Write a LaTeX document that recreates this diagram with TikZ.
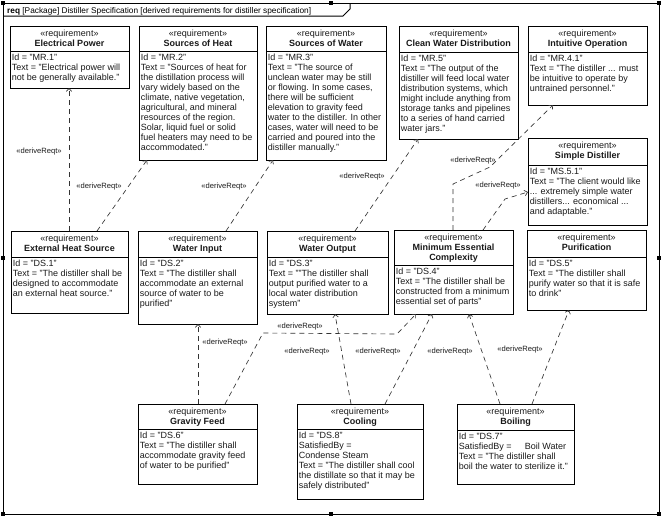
\documentclass[tikz,border=0pt]{standalone}
\usepackage{fontspec}
\setmainfont{Liberation Sans}
\usetikzlibrary{arrows.meta,calc}
% #1 name, #2 x, #3 y, #4 w, #5 h, #6 separator offset, #7 header name lines, #8 body
\newcommand{\reqbox}[8]{%
  \node[reqframe, minimum width=#4pt, minimum height=#5pt] (#1) at (#2,#3) {};
  \draw[boxline] ([yshift=-#6pt]#1.north west) -- ([yshift=-#6pt]#1.north east);
  \node[hdr] (#1h) at ([yshift=-3.2pt]#1.north) {\strut «requirement»\\#7};
  \node[bdy] (#1b) at ([xshift=1.6pt,yshift={-#6pt-2.2pt}]#1.north west) {\strut #8};
}
\begin{document}
\begin{tikzpicture}[x=1pt,y=-1pt,
  reqframe/.style={draw=black, line width=0.8pt, rectangle, anchor=north west, inner sep=0, outer sep=0},
  boxline/.style={draw=black, line width=0.8pt},
  frameline/.style={draw=black, line width=1pt},
  hdr/.style={inner sep=0, align=center, anchor=north, font=\fontsize{9}{10}\selectfont, text=black!90},
  bdy/.style={inner sep=0, align=left, anchor=north west, font=\fontsize{9}{10}\selectfont, text=black!90},
  lbl/.style={inner sep=0, font=\fontsize{7.6}{9}\selectfont, text=black!90},
  dr/.style={draw=black!80, line width=0.65pt, dash pattern=on 5pt off 4pt, -{Straight Barb[length=3pt,width=5.5pt]}},
  handle/.style={fill=black}
]
\useasboundingbox (0,0) rectangle (663,517);
% frame
\draw[frameline] (3,3) rectangle (659,514);
\draw[frameline] (3,16) -- (343,16) -- (350,9) -- (350,3);
\node[anchor=base west, font=\fontsize{8.3}{10}\selectfont, inner sep=0] (title) at (7,13)
  {\textbf{req} [Package] Distiller Specification [derived requirements for distiller specification]};
% selection handles
\foreach \hx/\hy in {3/3, 331/3, 659/3, 3/258, 659/258, 3/514, 331/514, 659/514}
  \fill[handle] (\hx-2,\hy-2) rectangle (\hx+2,\hy+2);

% top row
\reqbox{ep}{10}{26}{119}{62}{25}{\textbf{Electrical Power}}
 {Id = "MR.1"\\Text = "Electrical power will\\not be generally available."}
\reqbox{sh}{139}{26}{118}{134}{25}{\textbf{Sources of Heat}}
 {Id = "MR.2"\\Text = "Sources of heat for\\the distillation process will\\vary widely based on the\\climate, native vegetation,\\agricultural, and mineral\\resources of the region.\\Solar, liquid fuel or solid\\fuel heaters may need to be\\accommodated."}
\reqbox{sw}{266}{26}{120}{134}{25}{\textbf{Sources of Water}}
 {Id = "MR.3"\\Text = "The source of\\unclean water may be still\\or flowing. In some cases,\\there will be sufficient\\elevation to gravity feed\\water to the distiller. In other\\cases, water will need to be\\carried and poured into the\\distiller manually."}
\reqbox{cwd}{399}{26}{119}{113}{26}{\textbf{Clean Water Distribution}}
 {Id = "MR.5"\\Text = "The output of the\\distiller will feed local water\\distribution systems, which\\might include anything from\\storage tanks and pipelines\\to a series of hand carried\\water jars."}
\reqbox{io}{528}{26}{119}{79}{26}{\textbf{Intuitive Operation}}
 {Id = "MR.4.1"\\Text = "The distiller ... must\\be intuitive to operate by\\untrained personnel."}
\reqbox{sd}{528}{138}{119}{87}{27}{\textbf{Simple Distiller}}
 {Id = "MS.5.1"\\Text = "The client would like\\... extremely simple water\\distillers... economical ...\\and adaptable."}

% middle row
\reqbox{ehs}{11}{231}{117}{82}{26}{\textbf{External Heat Source}}
 {Id = "DS.1"\\Text = "The distiller shall be\\designed to accommodate\\an external heat source."}
\reqbox{wi}{138}{231}{119}{93}{26}{\textbf{Water Input}}
 {Id = "DS.2"\\Text = "The distiller shall\\accommodate an external\\source of water to be\\purified"}
\reqbox{wo}{267}{231}{121}{83}{26}{\textbf{Water Output}}
 {Id = "DS.3"\\Text = ""The distiller shall\\output purified water to a\\local water distribution\\system"}
\reqbox{mec}{394}{230}{119}{84}{35}{\textbf{Minimum Essential}\\\textbf{Complexity}}
 {Id = "DS.4"\\Text = "The distiller shall be\\constructed from a minimum\\essential set of parts"}
\reqbox{pur}{527}{230}{119}{80}{27}{\textbf{Purification}}
 {Id = "DS.5"\\Text = "The distiller shall\\purify water so that it is safe\\to drink"}

% bottom row
\reqbox{gf}{138}{404}{119}{80}{25}{\textbf{Gravity Feed}}
 {Id = "DS.6"\\Text = "The distiller shall\\accommodate gravity feed\\of water to be purified"}
\reqbox{cool}{297}{404}{126}{95}{25}{\textbf{Cooling}}
 {Id = "DS.8"\\SatisfiedBy =\\Condense Steam\\Text = "The distiller shall cool\\the distillate so that it may be\\safely distributed"}
\reqbox{boil}{457}{404}{117}{80}{26}{\textbf{Boiling}}
 {Id = "DS.7"\\SatisfiedBy = \hspace{1.2em}Boil Water\\Text = "The distiller shall\\boil the water to sterilize it."}

% bend points
\coordinate (b1) at (453,184);
\coordinate (b2) at (490,167);
\coordinate (b3) at (505,199);
\coordinate (b4) at (263,333);
\coordinate (b5) at (397,334);

% connectors
\draw[dr] ([xshift=58pt]ehs.north west) -- ([xshift=59pt]ep.south west);
\draw[dr] ([xshift=86pt]ehs.north west) -- ([xshift=8pt]sh.south west);
\draw[dr] ([xshift=88pt]wi.north west) -- ([xshift=7pt]sw.south west);
\draw[dr] ([xshift=88pt]wo.north west) -- ([xshift=19pt]cwd.south west);
\draw[dr] ([xshift=59pt]mec.north west) -- (b1) -- (b2) -- ([xshift=25pt]io.south west);
\draw[dr] ([xshift=89pt]mec.north west) -- (b3) -- ([yshift=-54pt]sd.north west);
\draw[dr] ([xshift=60pt]gf.north west) -- ([xshift=60pt]wi.south west);
\draw[dr] ([xshift=87pt]gf.north west) -- (b4) -- (b5) -- ([xshift=22pt]mec.south west);
\draw[dr] ([xshift=54pt]cool.north west) -- ([xshift=68pt]wo.south west);
\draw[dr] ([xshift=88pt]cool.north west) -- ([xshift=38pt]mec.south west);
\draw[dr] ([xshift=43pt]boil.north west) -- ([xshift=75pt]mec.south west);
\draw[dr] ([xshift=75pt]boil.north west) -- ([xshift=42pt]pur.south west);

% labels
\node[lbl] (l1) at (39,152) {«deriveReqt»};
\node[lbl] (l2) at (99,187) {«deriveReqt»};
\node[lbl] (l3) at (224,187) {«deriveReqt»};
\node[lbl] (l4) at (362,177) {«deriveReqt»};
\node[lbl] (l5) at (473,161) {«deriveReqt»};
\node[lbl] (l6) at (498,186) {«deriveReqt»};
\node[lbl] (l7) at (225,343) {«deriveReqt»};
\node[lbl] (l8) at (300,327) {«deriveReqt»};
\node[lbl] (l9) at (307,352) {«deriveReqt»};
\node[lbl] (l10) at (378,352) {«deriveReqt»};
\node[lbl] (l11) at (450,352) {«deriveReqt»};
\node[lbl] (l12) at (520,350) {«deriveReqt»};
\end{tikzpicture}
\end{document}
